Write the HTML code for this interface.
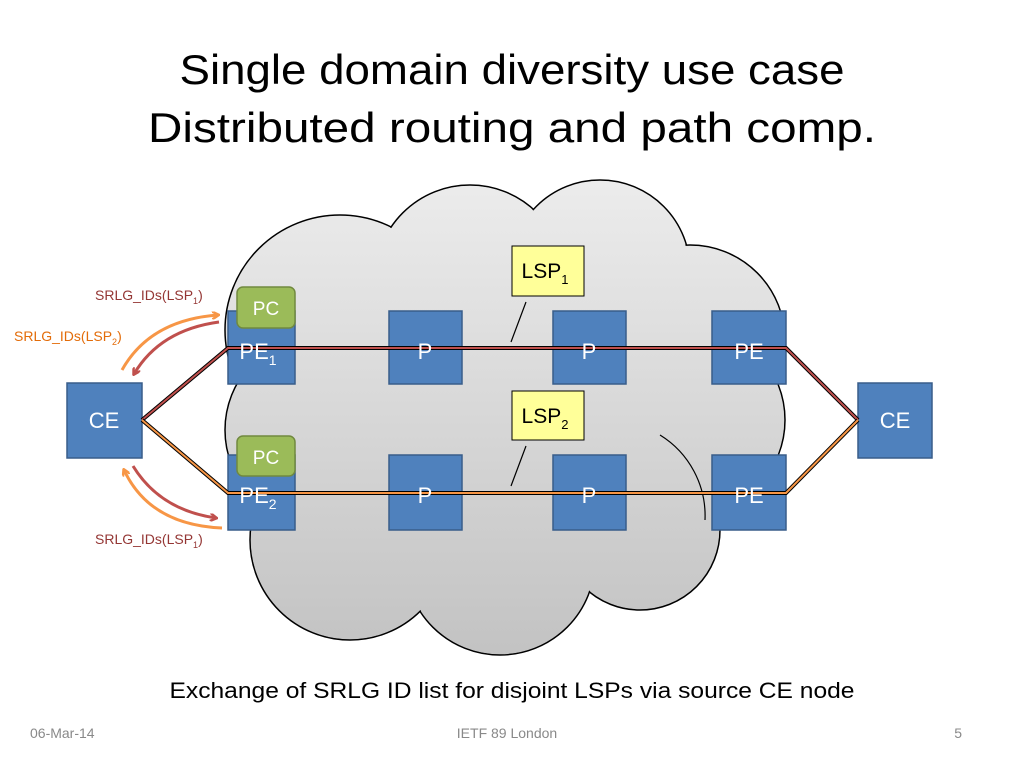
<!DOCTYPE html>
<html><head><meta charset="utf-8"><style>
body{margin:0;background:#fff;}
svg text{font-family:"Liberation Sans",sans-serif;}
</style></head><body>
<svg width="1024" height="768" viewBox="0 0 1024 768" xmlns="http://www.w3.org/2000/svg">
<defs>
<linearGradient id="g" gradientUnits="userSpaceOnUse" x1="0" y1="180" x2="0" y2="660"><stop offset="0" stop-color="#ececec"/><stop offset="1" stop-color="#c2c2c2"/></linearGradient>
<marker id="ao" markerWidth="8" markerHeight="8" refX="6" refY="4" orient="auto" markerUnits="userSpaceOnUse"><path d="M0,0 L7,4 L0,8" fill="none" stroke="#f79646" stroke-width="2.5"/></marker>
<marker id="ar" markerWidth="8" markerHeight="8" refX="6" refY="4" orient="auto" markerUnits="userSpaceOnUse"><path d="M0,0 L7,4 L0,8" fill="none" stroke="#c0504d" stroke-width="2.5"/></marker>
</defs>
<text x="512" y="84" font-size="42" text-anchor="middle" fill="#000" textLength="665" lengthAdjust="spacingAndGlyphs">Single domain diversity use case</text>
<text x="512" y="142" font-size="42" text-anchor="middle" fill="#000" textLength="728" lengthAdjust="spacingAndGlyphs">Distributed routing and path comp.</text>
<g stroke="#000" stroke-width="1.5" fill="url(#g)">
<circle cx="340" cy="330" r="115"/><circle cx="470" cy="280" r="95"/><circle cx="600" cy="270" r="90"/>
<circle cx="690" cy="340" r="95"/><circle cx="690" cy="420" r="95"/><circle cx="640" cy="530" r="80"/>
<circle cx="500" cy="560" r="95"/><circle cx="350" cy="540" r="100"/><circle cx="320" cy="430" r="95"/>
</g>
<g fill="url(#g)" stroke="none">
<circle cx="340" cy="330" r="114"/><circle cx="470" cy="280" r="94"/><circle cx="600" cy="270" r="89"/>
<circle cx="690" cy="340" r="94"/><circle cx="690" cy="420" r="94"/><circle cx="640" cy="530" r="79"/>
<circle cx="500" cy="560" r="94"/><circle cx="350" cy="540" r="99"/><circle cx="320" cy="430" r="94"/>
<rect x="300" y="300" width="400" height="280"/>
</g>
<g fill="none" stroke="#000" stroke-width="1.2">
<path d="M660,435 A95,95 0 0 1 705,520"/>
<line x1="526" y1="302" x2="511" y2="342"/><line x1="526" y1="446" x2="511" y2="486"/>
</g>
<g fill="#4f81bd" stroke="#385d8a" stroke-width="1.5">
<rect x="228" y="311" width="67" height="73"/><rect x="389" y="311" width="73" height="73"/><rect x="553" y="311" width="73" height="73"/><rect x="712" y="311" width="74" height="73"/>
<rect x="228" y="455" width="67" height="75"/><rect x="389" y="455" width="73" height="75"/><rect x="553" y="455" width="73" height="75"/><rect x="712" y="455" width="74" height="75"/>
<rect x="67" y="383" width="75" height="75"/><rect x="858" y="383" width="74" height="75"/>
</g>
<path d="M142,420 L228,348 L786,348 L858,420" fill="none" stroke="#000" stroke-width="4"/>
<path d="M142,420 L228,348 L786,348 L858,420" fill="none" stroke="#c0504d" stroke-width="2"/>
<path d="M142,420 L228,493 L786,493 L858,420" fill="none" stroke="#000" stroke-width="4"/>
<path d="M142,420 L228,493 L786,493 L858,420" fill="none" stroke="#f79646" stroke-width="2"/>
<g fill="#9bbb59" stroke="#71893f" stroke-width="1.5">
<rect x="237" y="287" width="58" height="41" rx="6"/><rect x="237" y="436" width="58" height="40" rx="6"/>
</g>
<g fill="#ffff99" stroke="#000" stroke-width="1">
<rect x="512" y="246" width="72" height="50"/><rect x="512" y="391" width="72" height="49"/>
</g>
<g font-size="22" fill="#fff" text-anchor="middle">
<text x="258" y="359">PE<tspan font-size="14" dy="6">1</tspan></text>
<text x="425" y="359">P</text><text x="589" y="359">P</text><text x="749" y="359">PE</text>
<text x="258" y="503">PE<tspan font-size="14" dy="6">2</tspan></text>
<text x="425" y="503">P</text><text x="589" y="503">P</text><text x="749" y="503">PE</text>
<text x="104" y="428">CE</text><text x="895" y="428">CE</text>
<text x="266" y="315" font-size="19">PC</text><text x="266" y="464" font-size="19">PC</text>
</g>
<g font-size="21" fill="#000" text-anchor="middle">
<text x="545" y="278">LSP<tspan font-size="13" dy="6">1</tspan></text>
<text x="545" y="423">LSP<tspan font-size="13" dy="6">2</tspan></text>
</g>
<g fill="none" stroke-width="3">
<path d="M122,370 Q150,320 218,315" stroke="#f79646" marker-end="url(#ao)"/>
<path d="M219,322 Q160,330 134,374" stroke="#c0504d" marker-end="url(#ar)"/>
<path d="M133,466 Q160,510 216,518" stroke="#c0504d" marker-end="url(#ar)"/>
<path d="M222,528 Q150,525 124,470" stroke="#f79646" marker-end="url(#ao)"/>
</g>
<g font-size="14">
<text x="95" y="300" fill="#943634">SRLG_IDs(LSP<tspan font-size="9" dy="4">1</tspan><tspan dy="-4">)</tspan></text>
<text x="14" y="341" fill="#e36c09">SRLG_IDs(LSP<tspan font-size="9" dy="4">2</tspan><tspan dy="-4">)</tspan></text>
<text x="95" y="544" fill="#943634">SRLG_IDs(LSP<tspan font-size="9" dy="4">1</tspan><tspan dy="-4">)</tspan></text>
</g>
<text x="512" y="698" font-size="22" text-anchor="middle" fill="#000" textLength="685" lengthAdjust="spacingAndGlyphs">Exchange of SRLG ID list for disjoint LSPs via source CE node</text>
<g font-size="14" fill="#898989">
<text x="30" y="738">06-Mar-14</text>
<text x="507" y="738" text-anchor="middle">IETF 89 London</text>
<text x="962" y="738" text-anchor="end">5</text>
</g>
</svg>
</body></html>
